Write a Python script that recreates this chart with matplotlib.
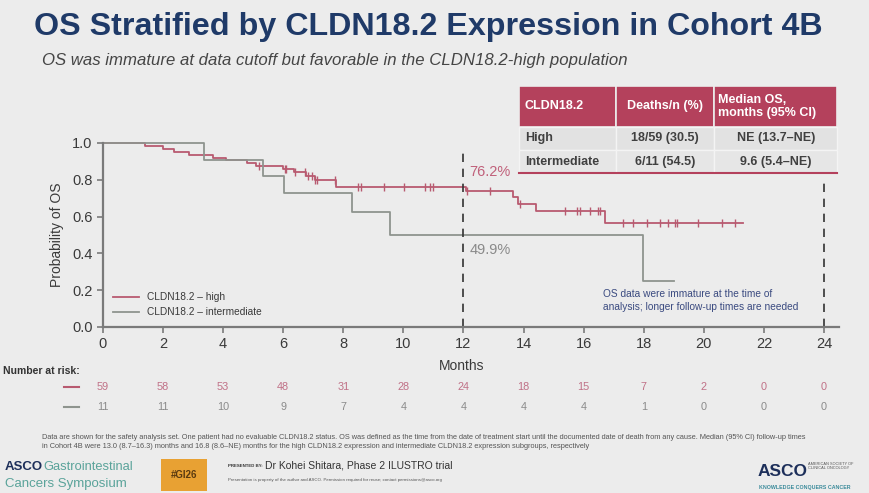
import numpy as np
import matplotlib
matplotlib.use('Agg')
import matplotlib.pyplot as plt
from matplotlib import transforms
from matplotlib.patches import Rectangle
from matplotlib.lines import Line2D

plt.rcParams['font.family'] = ['Liberation Sans', 'DejaVu Sans']

# step points (time in months, survival)
high_t = [0, 1.4, 2.0, 2.35, 2.85, 3.65, 4.1, 4.8, 5.1, 6.0, 6.35, 6.75, 7.05, 7.75, 12.1, 13.65, 13.8, 14.4, 16.7]
high_s = [1.0, 0.985, 0.968, 0.95, 0.933, 0.916, 0.905, 0.89, 0.876, 0.858, 0.842, 0.82, 0.80, 0.762, 0.737, 0.705, 0.67, 0.628, 0.563]
high_end = 21.3
high_cens = [5.2, 6.05, 6.1, 6.4, 6.72, 6.83, 6.96, 7.06, 7.12, 7.72, 8.5, 8.58, 9.35, 10.02,
             10.72, 10.9, 10.97, 12.12, 12.88, 13.88, 15.38, 15.79, 15.88, 16.21, 16.49, 16.55,
             17.32, 17.65, 18.1, 18.54, 18.8, 19.04, 19.1, 19.8, 20.6, 21.04]

inter_t = [0, 3.35, 5.33, 6.03, 8.28, 9.57, 17.98]
inter_s = [1.0, 0.909, 0.818, 0.727, 0.623, 0.499, 0.249]
inter_end = 19.0

risk_months = [0, 2, 4, 6, 8, 10, 12, 14, 16, 18, 20, 22, 24]
risk_high = [59, 58, 53, 48, 31, 28, 24, 18, 15, 7, 2, 0, 0]
risk_inter = [11, 11, 10, 9, 7, 4, 4, 4, 4, 1, 0, 0, 0]

tab_header = ['CLDN18.2', 'Deaths/n (%)', 'Median OS,\nmonths (95% CI)']
tab_rows = [['High', '18/59 (30.5)', 'NE (13.7–NE)'],
            ['Intermediate', '6/11 (54.5)', '9.6 (5.4–NE)']]

RED = '#b4415c'
LRED = '#b85a70'
GRAY = '#8e948e'
NAVY = '#1f3a68'
BG = '#ececec'

W, H = 870, 493
fig = plt.figure(figsize=(8.7, 4.93), dpi=100, facecolor=BG)

def px(x, y):
    return x / W, 1 - y / H

# ---- titel
fig.text(*px(34, 27), 'OS Stratified by CLDN18.2 Expression in Cohort 4B', fontsize=23.2,
         fontweight='bold', color=NAVY, va='center')
fig.text(*px(42, 61), 'OS was immature at data cutoff but favorable in the CLDN18.2-high population',
         fontsize=12.1, style='italic', color='#454545', va='center')

# ---- KM axes
x0, x1 = 103, 103 + 24.5 * 30.04
ax = fig.add_axes([x0 / W, 1 - 327 / H, (x1 - x0) / W, 184 / H])
ax.set_facecolor(BG)
ax.set_xlim(0, 24.5)
ax.set_ylim(0, 1.0)

ax.plot(high_t + [high_end], high_s + [high_s[-1]], drawstyle='steps-post', color=LRED, lw=1.3,
        clip_on=False, label='CLDN18.2 – high')
ax.plot(inter_t + [inter_end], inter_s + [inter_s[-1]], drawstyle='steps-post', color=GRAY, lw=1.3,
        clip_on=False, label='CLDN18.2 – intermediate')
idx = np.searchsorted(high_t, high_cens, side='right') - 1
ax.plot(high_cens, np.array(high_s)[idx], ls='none', marker='|', ms=6, mew=1, color=LRED, clip_on=False)

ax.plot([12, 12], [0, 0.973], ls=(0, (5, 4)), color='#333333', lw=1.2, clip_on=False)
ax.plot([24, 24], [0, 0.817], ls=(0, (5, 4)), color='#333333', lw=1.2, clip_on=False)
ax.text(12.2, 0.84, '76.2%', color='#c0607a', fontsize=10.5, va='center')
ax.text(12.2, 0.418, '49.9%', color='#8a8a8a', fontsize=10.5, va='center')
ax.text(16.65, 0.145, 'OS data were immature at the time of\nanalysis; longer follow-up times are needed',
        color='#3a4a80', fontsize=7.3, va='center', linespacing=1.4)

for s in ['top', 'right']:
    ax.spines[s].set_visible(False)
for s in ['left', 'bottom']:
    ax.spines[s].set_color('#7a7a7a')
    ax.spines[s].set_linewidth(1.6)
ax.set_xticks(range(0, 25, 2))
ax.set_yticks([0, 0.2, 0.4, 0.6, 0.8, 1.0])
ax.set_yticklabels(['0.0', '0.2', '0.4', '0.6', '0.8', '1.0'])
ax.tick_params(colors='#7a7a7a', labelcolor='#3a3a3a', labelsize=10.5, length=4, width=1.2)
ax.set_ylabel('Probability of OS', fontsize=10, color='#3a3a3a', labelpad=6)

leg = ax.legend(loc='lower left', bbox_to_anchor=(0.005, 0.02), frameon=False, fontsize=7.3,
                handlelength=2.6, labelcolor='#3a3a3a', borderaxespad=0.2)

# ---- number at risk
tr = transforms.blended_transform_factory(ax.transData, fig.transFigure)
fig.text(*px(462, 366), 'Months', fontsize=10, color='#3a3a3a', ha='center', va='center')
fig.text(*px(3, 371), 'Number at risk:', fontsize=7.5, fontweight='bold', color='#333333', va='center')
for m, a, b in zip(risk_months, risk_high, risk_inter):
    ax.text(m, px(0, 387)[1], str(a), transform=tr, ha='center', va='center', fontsize=7.8, color='#c07086')
    ax.text(m, px(0, 407)[1], str(b), transform=tr, ha='center', va='center', fontsize=7.8, color='#8a8a8a')
fig.add_artist(Line2D([64 / W, 79 / W], [px(0, 387)[1]] * 2, color=LRED, lw=1.5))
fig.add_artist(Line2D([64 / W, 79 / W], [px(0, 407)[1]] * 2, color=GRAY, lw=1.5))

# ---- tabel
tx = [519, 616, 714, 837]
ty = [86, 126.7, 150, 173.3]
for c in range(3):
    fig.add_artist(Rectangle(px(tx[c], ty[1]), (tx[c + 1] - tx[c]) / W, (ty[1] - ty[0]) / H,
                             facecolor=RED, edgecolor=BG, lw=1.2))
    for r in range(2):
        fig.add_artist(Rectangle(px(tx[c], ty[r + 2]), (tx[c + 1] - tx[c]) / W, (ty[r + 2] - ty[r + 1]) / H,
                                 facecolor='#e2e2e2' if r == 0 else '#e6e6e6', edgecolor='#f4f4f4', lw=1.0))
fig.add_artist(Line2D([tx[0] / W, tx[3] / W], [px(0, ty[3])[1]] * 2, color=RED, lw=1.5))
hx = [525, 665, 718]
has = ['left', 'center', 'left']
for c in range(3):
    fig.text(*px(hx[c], (ty[0] + ty[1]) / 2), tab_header[c], color='white', fontsize=9,
             fontweight='bold', ha=has[c], va='center', linespacing=1.15)
rx = [525, 665, 776]
rha = ['left', 'center', 'center']
for r in range(2):
    for c in range(3):
        fig.text(*px(rx[c], (ty[r + 1] + ty[r + 2]) / 2), tab_rows[r][c], color='#404040', fontsize=9,
                 fontweight='bold', ha=rha[c], va='center')

# ---- voetnoot en footer
fig.text(*px(42, 442), 'Data are shown for the safety analysis set. One patient had no evaluable CLDN18.2 status. '
         'OS was defined as the time from the date of treatment start until the documented date of death from any cause. '
         'Median (95% CI) follow-up times\nin Cohort 4B were 13.0 (8.7–16.3) months and 16.8 (8.6–NE) months for the '
         'high CLDN18.2 expression and intermediate CLDN18.2 expression subgroups, respectively',
         fontsize=5.3, color='#555555', va='center', linespacing=1.4)
fig.text(*px(5, 467), 'ASCO', fontsize=9.5, fontweight='bold', color='#1d2f5a', va='center')
fig.text(*px(43, 467), 'Gastrointestinal', fontsize=9.3, color='#5aa39a', va='center')
fig.text(*px(5, 484), 'Cancers Symposium', fontsize=9.5, color='#5aa39a', va='center')
fig.add_artist(Rectangle(px(161, 491), 46 / W, 32 / H, facecolor='#e8a133', edgecolor='none'))
fig.text(*px(184, 475), '#GI26', fontsize=7, fontweight='bold', color='#5a3a10', ha='center', va='center')
fig.text(*px(228, 466), 'PRESENTED BY:', fontsize=3.2, fontweight='bold', color='#333333', va='center')
fig.text(*px(265, 465), 'Dr Kohei Shitara, Phase 2 ILUSTRO trial', fontsize=7.5, color='#333333', va='center')
fig.text(*px(228, 480), 'Presentation is property of the author and ASCO. Permission required for reuse; '
         'contact permissions@asco.org', fontsize=3.2, color='#555555', va='center')
fig.text(*px(758, 472), 'ASCO', fontsize=12.5, fontweight='bold', color='#1d2f5a', va='center')
fig.text(*px(808, 466), 'AMERICAN SOCIETY OF\nCLINICAL ONCOLOGY', fontsize=2.8, color='#555555', va='center')
fig.text(*px(759, 487), 'KNOWLEDGE CONQUERS CANCER', fontsize=3.8, fontweight='bold', color='#3a8a9a', va='center')

fig.savefig('out.png', dpi=100, facecolor=BG)
